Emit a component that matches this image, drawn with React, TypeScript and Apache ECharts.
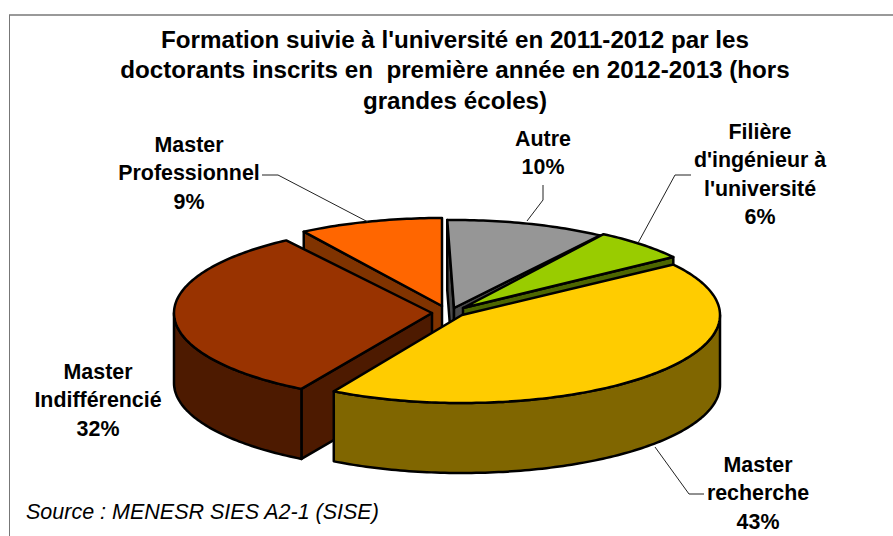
import React, { useEffect, useRef } from "react";
import * as echarts from "echarts";

const titleLines = [
  "Formation suivie à l'université en 2011-2012 par les",
  "doctorants inscrits en  première année en 2012-2013 (hors",
  "grandes écoles)",
];
const categories = ["Master Professionnel", "Autre", "Filière d'ingénieur à l'université", "Master Indifférencié", "Master recherche"];
const shares = [9, 10, 6, 32, 43];
const sliceStart = [327.6, 358.5, 33, 210.4, 55];
const topColors = ["#FF6600", "#969696", "#99CC00", "#993300", "#FFCC00"];
const sideColors = ["#803300", "#4B4B4B", "#4D6600", "#4D1A00", "#806600"];
const apexX = [442, 454, 463, 432, 462];
const apexY = [306, 308, 308, 313, 315];
const labelLines = [
  ["Master", "Professionnel", "9%"],
  ["Autre", "10%"],
  ["Filière", "d'ingénieur à", "l'université", "6%"],
  ["Master", "Indifférencié", "32%"],
  ["Master", "recherche", "43%"],
];
const labelX = [189, 543, 760, 98, 758];
const labelY = [145, 139, 132, 372, 465];
const leaders = [
  [[262, 175], [278, 175], [368, 222]],
  [[543, 185], [543, 200], [527, 221]],
  [[691, 175], [675, 175], [638, 243]],
  [],
  [[655, 447], [689, 494], [704, 494]],
];
const sourceText = "Source : MENESR SIES A2-1 (SISE)";

const RX = 258;
const RY = 88;
const DEPTH = 70;
const rad = (d: number) => (d * Math.PI) / 180;

function renderSlice(_: any, api: any) {
  const i = api.value(0);
  const share = api.value(1);
  const a0 = sliceStart[i];
  const a1 = a0 + (share / 100) * 360;
  const ax = apexX[i];
  const ay = apexY[i];
  const pt = (t: number, d = 0) => [ax + RX * Math.sin(rad(t)), ay - RY * Math.cos(rad(t)) + d];
  const arc = (s: number, e: number, d = 0) => {
    const n = Math.max(2, Math.ceil(e - s));
    const out: number[][] = [];
    for (let k = 0; k <= n; k++) out.push(pt(s + ((e - s) * k) / n, d));
    return out;
  };
  const line = { stroke: "#000", lineWidth: 2.5, lineJoin: "round" };
  const children: any[] = [];
  const face = (t: number) => [[ax, ay], pt(t), pt(t, DEPTH), [ax, ay + DEPTH]];
  if (Math.sin(rad(a0)) < 0) {
    children.push({ type: "polygon", shape: { points: face(a0) }, style: { fill: sideColors[i], ...line } });
  }
  if (Math.sin(rad(a1)) > 0) {
    children.push({ type: "polygon", shape: { points: face(a1) }, style: { fill: sideColors[i], ...line } });
  }
  const s = Math.max(a0, 90);
  const e = Math.min(a1, 270);
  if (e > s) {
    const pts = [...arc(s, e), ...arc(s, e, DEPTH).reverse()];
    children.push({ type: "polygon", shape: { points: pts }, style: { fill: sideColors[i], ...line } });
  }
  children.push({
    type: "polygon",
    shape: { points: [[ax, ay], ...arc(a0, a1)] },
    style: { fill: topColors[i], ...line },
  });
  return { type: "group", children };
}

export default function App() {
  const ref = useRef<HTMLDivElement>(null);
  useEffect(() => {
    const chart = echarts.init(ref.current!, null, { renderer: "svg" });
    const font = "Liberation Sans, Arial, sans-serif";
    const graphic: any[] = [
      { type: "line", shape: { x1: 9, y1: 15, x2: 893, y2: 15 }, style: { stroke: "#999999", lineWidth: 2 }, z: 1 },
      { type: "line", shape: { x1: 9.5, y1: 15, x2: 9.5, y2: 536 }, style: { stroke: "#777777", lineWidth: 1 }, z: 1 },
    ];
    titleLines.forEach((t, i) => {
      graphic.push({
        type: "text", x: 455, y: 39 + i * 30.5, z: 10,
        style: { text: t, fontFamily: font, fontWeight: "bold", fontSize: 24.2, fill: "#000", align: "center", verticalAlign: "middle" },
      });
    });
    labelLines.forEach((lines, i) => {
      lines.forEach((t, k) => {
        graphic.push({
          type: "text", x: labelX[i], y: labelY[i] + k * 28.4, z: 10,
          style: { text: t, fontFamily: font, fontWeight: "bold", fontSize: 21.4, fill: "#000", align: "center", verticalAlign: "middle" },
        });
      });
    });
    leaders.forEach((pts) => {
      if (pts.length) graphic.push({ type: "polyline", shape: { points: pts }, style: { stroke: "#222", lineWidth: 1, fill: "none" }, z: 10 });
    });
    graphic.push({
      type: "text", x: 26, y: 512, z: 10,
      style: { text: sourceText, fontFamily: font, fontStyle: "italic", fontSize: 21.5, fill: "#000", align: "left", verticalAlign: "middle" },
    });
    chart.setOption({
      animation: false,
      backgroundColor: "#fff",
      series: [{
        type: "custom",
        coordinateSystem: "none",
        renderItem: renderSlice,
        silent: true,
        encode: { value: 1, itemName: 2 },
        data: categories.map((c, i) => [i, shares[i], c]),
      }],
      graphic,
    });
    return () => chart.dispose();
  }, []);
  return <div ref={ref} style={{ position: "absolute", left: 0, top: 0, width: 893, height: 536 }} />;
}
